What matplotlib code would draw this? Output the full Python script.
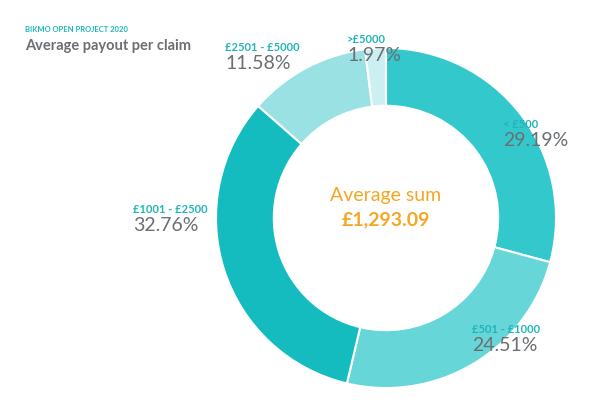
import matplotlib.pyplot as plt

categories = ["< £500", "£501 - £1000", "£1001 - £2500", "£2501 - £5000", ">£5000"]
shares = [29.19, 24.51, 32.76, 11.58, 1.97]
colors = ["#33c9cc", "#66d6d8", "#14bcbf", "#99e1e3", "#ccf0f1"]
# label anchor positions in figure pixels (x, y from top)
label_px = [(503, 130), (472, 335), (133, 215), (225, 53), (347, 45)]

plt.rcParams['font.family'] = ['Lato', 'DejaVu Sans']
teal = "#1fb5b8"
grey = "#6b6f73"

fig = plt.figure(figsize=(6, 4), dpi=100)
ax = fig.add_axes([(386 - 170) / 600, (400 - 218 - 170) / 400, 340 / 600, 340 / 400])
ax.pie(shares, colors=colors, startangle=90, counterclock=False,
       wedgeprops=dict(width=0.34, edgecolor="white", linewidth=1.5))
ax.set_xlim(-1, 1)
ax.set_ylim(-1, 1)
ax.set_aspect("equal")

for cat, val, (px, py) in zip(categories, shares, label_px):
    fig.text(px / 600, 1 - py / 400, cat, color=teal, fontsize=8, fontweight="bold", va="bottom")
    fig.text(px / 600, 1 - (py + 2) / 400, f"{val:.2f}%", color=grey, fontsize=14, va="top")

fig.text(386 / 600, 1 - 196 / 400, "Average sum", color="#f5a623", fontsize=14, ha="center", va="center")
fig.text(386 / 600, 1 - 220 / 400, "£1,293.09", color="#f5a623", fontsize=14, fontweight="bold",
         ha="center", va="center")

fig.text(25 / 600, 1 - 30 / 400, "BIKMO OPEN PROJECT 2020", color=teal, fontsize=5.5, fontweight="bold", va="center")
fig.text(25 / 600, 1 - 46 / 400, "Average payout per claim", color=grey, fontsize=10.5, fontweight="bold", va="center")

fig.savefig("out.png", dpi=100)
